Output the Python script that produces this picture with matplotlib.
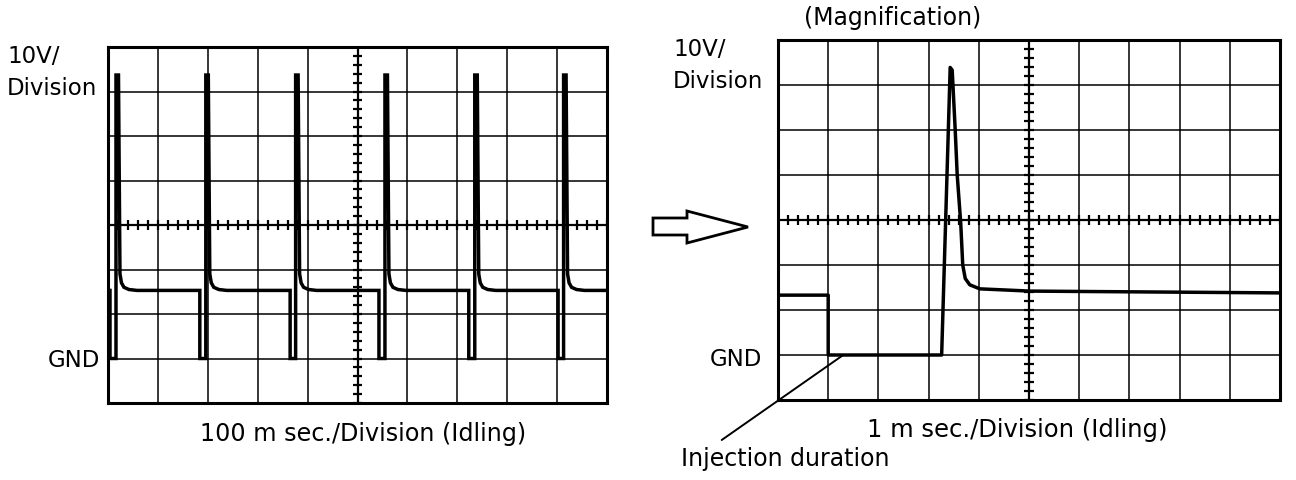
import numpy as np
import matplotlib
matplotlib.use("Agg")
import matplotlib.pyplot as plt
from matplotlib.patches import Polygon

plt.rcParams['font.family'] = ['DejaVu Sans']

# ---------------- data ----------------
# Left scope: 100 ms/div, 10 V/div (times in ms, voltages in V)
left_drop_ms = [4, 184, 365, 543, 723, 902]      # injector switched on (trace falls to GND)
left_rise_ms = [16, 196, 376, 555, 735, 913]     # injector switched off (surge spike)
left_plateau_v = 15.3
left_peak_v = 63.7
# surge tail shape after switch-off: offset (ms) and voltage (V)
tail_dt_ms = [0, 5, 8, 11, 16, 26, 42]
tail_v = [63.7, 63.7, 19.0, 17.0, 16.0, 15.5, 15.3]

# Right scope (magnification): 1 ms/div, 10 V/div
right_t_ms = [0, 1.0, 1.0, 3.26, 3.43, 3.47, 3.53, 3.57, 3.64, 3.68, 3.73, 3.82, 4.02, 5.02, 10.0]
right_v = [13.3, 13.3, 0, 0, 63.9, 63.3, 50.0, 40.0, 29.3, 20.0, 17.0, 15.6, 14.7, 14.2, 13.8]
injection_mark_ms = 1.30

W, H = 1296, 480


def box(x0, y0, x1, y1):
    return [x0 / W, 1 - y1 / H, (x1 - x0) / W, (y1 - y0) / H]


def build_left_trace():
    t = [0.0]
    v = [left_plateau_v]
    for d, r in zip(left_drop_ms, left_rise_ms):
        t += [d, d, r, r]
        v += [left_plateau_v, 0.0, 0.0, left_peak_v]
        for dt, tv in zip(tail_dt_ms, tail_v):
            t.append(r + dt)
            v.append(tv)
    t.append(1000.0)
    v.append(left_plateau_v)
    return t, v


def scope(ax, xmax, major, minor):
    ax.set_xlim(0, xmax)
    ax.set_ylim(-10, 70)
    ax.set_xticks(np.arange(0, xmax + major / 2, major))
    ax.set_yticks(np.arange(-10, 71, 10))
    ax.tick_params(length=0, labelbottom=False, labelleft=False)
    ax.grid(True, color='black', lw=1.1)
    for s in ax.spines.values():
        s.set_linewidth(2.2)
        s.set_color('black')
    cx = xmax / 2
    # graduations on the centre axes
    xt = np.arange(0, xmax + minor / 2, minor)
    ax.vlines(xt, 30 - 1.1, 30 + 1.1, color='black', lw=1.6)
    yt = np.arange(-10, 70.01, 2)
    ax.hlines(yt, cx - minor * 0.5, cx + minor * 0.5, color='black', lw=1.6)
    ax.axhline(30, color='black', lw=1.6)
    ax.axvline(cx, color='black', lw=1.6)


fig = plt.figure(figsize=(12.96, 4.8), dpi=100)

axL = fig.add_axes(box(108, 47, 607, 403))
scope(axL, 1000, 100, 20)
lt, lv = build_left_trace()
axL.plot(lt, lv, color='black', lw=2.5, solid_joinstyle='miter', zorder=5)

axR = fig.add_axes(box(778, 40, 1280, 400))
scope(axR, 10, 1, 0.2)
axR.plot(right_t_ms, right_v, color='black', lw=2.5, zorder=5)

# Injection duration pointer
axR.annotate('', xy=(injection_mark_ms, 0), xycoords='data',
             xytext=(721.7 / W, 1 - 440 / H), textcoords='figure fraction',
             arrowprops=dict(arrowstyle='-', lw=1.4, color='black', shrinkA=0, shrinkB=0),
             annotation_clip=False)


def txt(x, y, s, size, ha='left'):
    fig.text(x / W, 1 - y / H, s, fontsize=size, ha=ha, va='baseline', color='black')


txt(7, 63, '10V/', 16.5)
txt(7, 95, 'Division', 16.5)
txt(100, 367, 'GND', 16.5, ha='right')
txt(363, 441, '100 m sec./Division (Idling)', 17.2, ha='center')

txt(893, 25, '(Magnification)', 17, ha='center')
txt(673, 56, '10V/', 16.5)
txt(673, 88, 'Division', 16.5)
txt(762, 366, 'GND', 16.5, ha='right')
txt(1017, 437, '1 m sec./Division (Idling)', 17.5, ha='center')
txt(681, 466, 'Injection duration', 17)

# Hollow arrow between panels
pts = [(653, 218), (687, 218), (687, 211), (748, 227), (687, 243), (687, 235), (653, 235)]
arrow = Polygon([(x / W, 1 - y / H) for x, y in pts], closed=True, transform=fig.transFigure,
                facecolor='white', edgecolor='black', lw=2.0)
fig.add_artist(arrow)

fig.savefig('out.png', dpi=100)
